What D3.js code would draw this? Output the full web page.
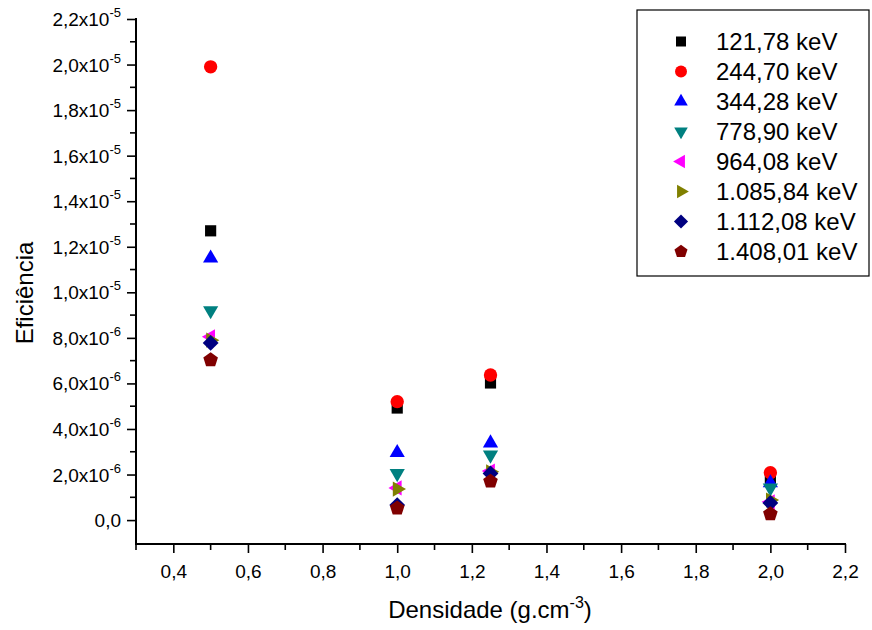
<!DOCTYPE html>
<html><head><meta charset="utf-8">
<script src="https://cdn.jsdelivr.net/npm/d3@7"></script>
<style>body{margin:0;background:#fff}svg{display:block;font-family:"Liberation Sans",Arial,sans-serif}</style>
</head><body><svg id="c" width="872" height="630"></svg>
<script>
const densities = [0.5, 1.0, 1.25, 2.0];
const seriesNames = ["121,78 keV","244,70 keV","344,28 keV","778,90 keV","964,08 keV","1.085,84 keV","1.112,08 keV","1.408,01 keV"];
const seriesColors = ["#000000","#ff0000","#0000ff","#008080","#ff00ff","#808000","#000080","#800000"];
const s121 = [1.27e-5, 4.92e-6, 6.02e-6, 1.85e-6];
const s244 = [1.99e-5, 5.20e-6, 6.37e-6, 2.08e-6];
const s344 = [1.15e-5, 2.96e-6, 3.38e-6, 1.63e-6];
const s778 = [9.2e-6, 2.05e-6, 2.86e-6, 1.41e-6];
const s964 = [8.05e-6, 1.41e-6, 2.15e-6, 0.80e-6];
const s1085 = [7.9e-6, 1.36e-6, 2.12e-6, 0.88e-6];
const s1112 = [7.78e-6, 0.66e-6, 2.05e-6, 0.75e-6];
const s1408 = [7.03e-6, 0.52e-6, 1.70e-6, 0.27e-6];
const seriesValues = [s121, s244, s344, s778, s964, s1085, s1112, s1408];
const xTicks = [0.4,0.6,0.8,1.0,1.2,1.4,1.6,1.8,2.0,2.2];
const xTickLabels = ["0,4","0,6","0,8","1,0","1,2","1,4","1,6","1,8","2,0","2,2"];
const yTicks = [0,2e-6,4e-6,6e-6,8e-6,1e-5,1.2e-5,1.4e-5,1.6e-5,1.8e-5,2e-5,2.2e-5];
const yTickMantissa = ["0,0","2,0x10","4,0x10","6,0x10","8,0x10","1,0x10","1,2x10","1,4x10","1,6x10","1,8x10","2,0x10","2,2x10"];
const yTickExp = ["","-6","-6","-6","-6","-5","-5","-5","-5","-5","-5","-5"];

const svg = d3.select("#c");
const x = d3.scaleLinear().domain([0.3, 2.2]).range([136, 845]);
const y = d3.scaleLinear().domain([-1.05e-6, 2.2e-5]).range([544, 19]);

// custom pentagon symbol
const pentagon = {draw(ctx, size){
  const r = Math.sqrt(size/2.3776);
  for(let i=0;i<5;i++){const a=-Math.PI/2+i*2*Math.PI/5;const px=r*Math.cos(a),py=r*Math.sin(a);i?ctx.lineTo(px,py):ctx.moveTo(px,py);}
  ctx.closePath();}};
const shapes = [
  {type:d3.symbolSquare,size:125,rot:0},
  {type:d3.symbolCircle,size:140,rot:0},
  {type:d3.symbolTriangle,size:100,rot:0},
  {type:d3.symbolTriangle,size:100,rot:180},
  {type:d3.symbolTriangle,size:100,rot:-90},
  {type:d3.symbolTriangle,size:100,rot:90},
  {type:d3.symbolSquare,size:125,rot:45},
  {type:pentagon,size:140,rot:0}
];

// axes
const xAxis = d3.axisBottom(x).tickValues(xTicks).tickFormat((d,i)=>xTickLabels[i]).tickSize(9).tickSizeOuter(0);
const gx = svg.append("g").attr("transform","translate(0,544)").call(xAxis);
gx.select(".domain").attr("stroke-width",2).attr("d","M135,0H846");
gx.selectAll(".tick line").attr("stroke-width",1.6);
gx.selectAll(".tick text").attr("font-size",19).attr("y",34).attr("dy",0).attr("font-family","Liberation Sans, Arial");
const xMinor = d3.range(3,22,2).map(v=>v/10);
svg.append("g").selectAll("line").data(xMinor).join("line")
  .attr("x1",d=>x(d)).attr("x2",d=>x(d)).attr("y1",544).attr("y2",550).attr("stroke","#000").attr("stroke-width",1.6);

const yAxis = d3.axisLeft(y).tickValues(yTicks).tickFormat("").tickSize(9).tickSizeOuter(0);
const gy = svg.append("g").attr("transform","translate(136,0)").call(yAxis);
gy.select(".domain").attr("stroke-width",2).attr("d","M0,545V18");
gy.selectAll(".tick line").attr("stroke-width",1.6);
const yMinor = d3.range(1,22,2).map(v=>v*1e-6);
svg.append("g").selectAll("line").data(yMinor).join("line")
  .attr("x1",130).attr("x2",136).attr("y1",d=>y(d)).attr("y2",d=>y(d)).attr("stroke","#000").attr("stroke-width",1.6);
const yl = svg.append("g").selectAll("text").data(yTicks).join("text")
  .attr("x",121).attr("y",d=>y(d)+7).attr("text-anchor","end").attr("font-size",19);
yl.append("tspan").text((d,i)=>yTickMantissa[i]);
yl.append("tspan").attr("dy",-9).attr("font-size",13).text((d,i)=>yTickExp[i]);

// axis titles
const xt = svg.append("text").attr("x",490).attr("y",618).attr("text-anchor","middle").attr("font-size",24);
xt.append("tspan").text("Densidade (g.cm");
xt.append("tspan").attr("dy",-10).attr("font-size",16).text("-3");
xt.append("tspan").attr("dy",10).text(")");
svg.append("text").attr("transform","translate(33,293) rotate(-90)").attr("text-anchor","middle").attr("font-size",24).text("Eficiência");

// points
seriesValues.forEach((vals,si)=>{
  const sh = shapes[si];
  svg.append("g").selectAll("path").data(vals).join("path")
    .attr("d", d3.symbol(sh.type, sh.size))
    .attr("transform",(d,i)=>`translate(${x(densities[i])},${y(d)}) rotate(${sh.rot})`)
    .attr("fill",seriesColors[si]);
});

// legend
const lg = svg.append("g");
lg.append("rect").attr("x",637).attr("y",10).attr("width",232).attr("height",266).attr("fill","#fff").attr("stroke","#000").attr("stroke-width",1.2);
seriesNames.forEach((n,si)=>{
  const sh = shapes[si];
  const cy = 41.5 + si*30;
  lg.append("path").attr("d", d3.symbol(sh.type, sh.size*0.8)).attr("transform",`translate(681,${cy}) rotate(${sh.rot})`).attr("fill",seriesColors[si]);
  lg.append("text").attr("x",716).attr("y",cy+8.5).attr("font-size",24).text(n);
});
</script></body></html>
